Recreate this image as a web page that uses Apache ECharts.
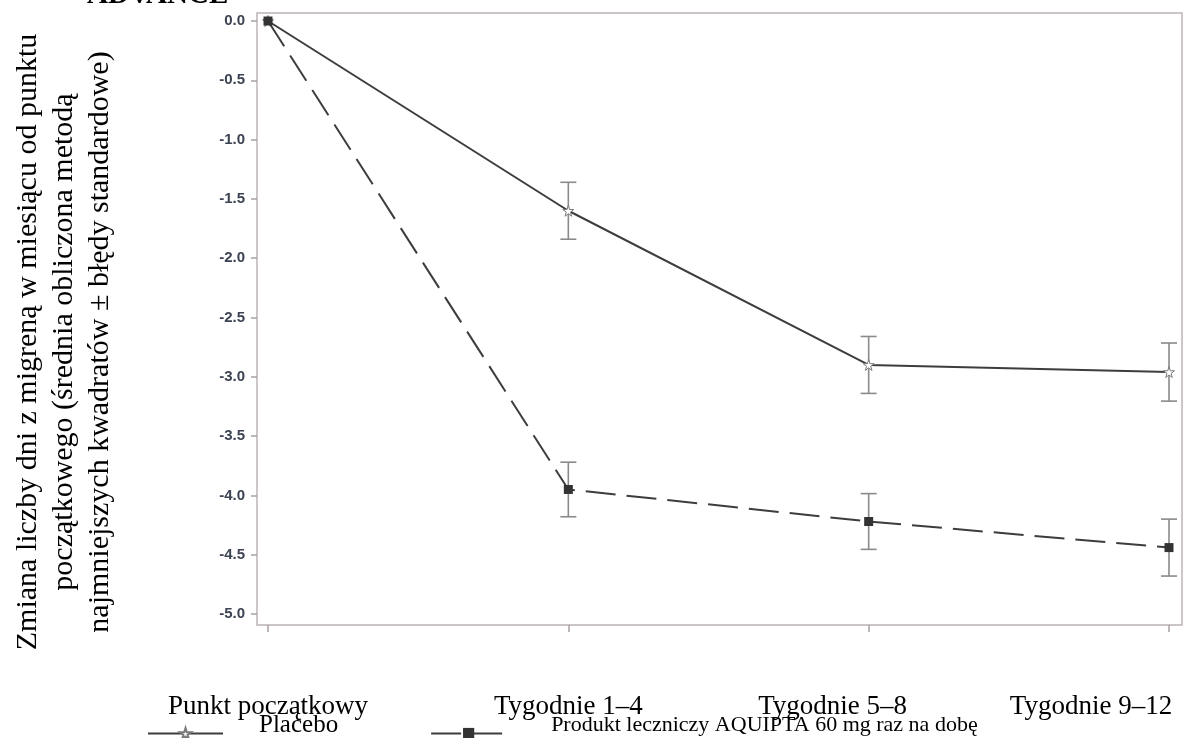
<!DOCTYPE html>
<html lang="pl">

<head>
    <title>echarts</title>
    <meta http-equiv="content-type" content="text/html; charset=utf-8">
    <script src="https://cdn.jsdelivr.net/npm/echarts@6/dist/echarts.min.js"></script>
</head>

<style>
    * {
        margin: 0;
        padding: 0;
        box-sizing: border-box;
    }

    html,
    body {
        width: 100%;
        height: 100%;
        background: #fff;
    }

    #main {
        width: 1198px;
        height: 738px;
    }
</style>

<body>
    <div id="main"></div>
</body>
<script>
    // dane
    const categories = ['Punkt początkowy', 'Tygodnie 1–4', 'Tygodnie 5–8', 'Tygodnie 9–12'];
    const placeboMean = [0, -1.60, -2.90, -2.96];
    const placeboSE = [0, 0.24, 0.24, 0.245];
    const aquiptaMean = [0, -3.95, -4.22, -4.44];
    const aquiptaSE = [0, 0.23, 0.235, 0.24];
    const yTicks = { min: -5, max: 0, step: 0.5 };

    const seriesNames = ['Placebo', 'Produkt leczniczy AQUIPTA 60 mg raz na dobę'];
    const yName = 'Zmiana liczby dni z migreną w miesiącu od punktu\npoczątkowego (średnia obliczona metodą\nnajmniejszych kwadratów ± błędy standardowe)';

    const serif = '"Liberation Serif", "Times New Roman", serif';
    const starPath = 'path://M50,0 L61,35 L98,35 L68,57 L79,91 L50,70 L21,91 L32,57 L2,35 L39,35 Z';

    const toPairs = (arr) => arr.map((v, i) => [i, v]);
    const errData = (mean, se) => mean.map((v, i) => [i, v - se[i], v + se[i]]).filter(d => d[2] - d[1] > 0);

    // rysowanie słupków błędów
    const renderError = (params, api) => {
        const lo = api.coord([api.value(0), api.value(1)]);
        const hi = api.coord([api.value(0), api.value(2)]);
        const cap = 8;
        const style = { stroke: '#8a8a8a', lineWidth: 1.6 };
        return {
            type: 'group',
            children: [
                { type: 'line', shape: { x1: lo[0], y1: lo[1], x2: hi[0], y2: hi[1] }, style },
                { type: 'line', shape: { x1: lo[0] - cap, y1: lo[1], x2: lo[0] + cap, y2: lo[1] }, style },
                { type: 'line', shape: { x1: hi[0] - cap, y1: hi[1], x2: hi[0] + cap, y2: hi[1] }, style }
            ]
        };
    };

    const myChart = echarts.init(document.getElementById('main'));

    const labelFont = { fontFamily: serif, fontSize: 27, color: '#000' };

    const option = {
        animation: false,
        backgroundColor: '#fff',
        grid: { left: 268, right: 29, top: 21, bottom: 124, outerBoundsMode: 'none', containLabel: false },
        graphic: [
            {
                type: 'rect',
                z: 0,
                shape: { x: 257, y: 13, width: 925, height: 612 },
                style: { fill: 'none', stroke: '#bcb4b4', lineWidth: 1.5 }
            },
            {
                type: 'text',
                x: 87,
                y: 10,
                style: { text: 'ADVANCE', font: 'bold 29px ' + serif, fill: '#000', verticalAlign: 'bottom' }
            },
            {
                type: 'text',
                x: 64,
                y: 342,
                rotation: Math.PI / 2,
                style: {
                    text: yName,
                    font: '30px ' + serif,
                    lineHeight: 36,
                    fill: '#000',
                    align: 'center',
                    verticalAlign: 'middle'
                }
            }
        ],
        legend: {
            left: 142,
            top: 708,
            itemWidth: 75,
            itemHeight: 14,
            itemGap: 92,
            data: seriesNames,
            formatter: (name) => (name === seriesNames[0] ? '{a|' : '{b|') + name + '}',
            textStyle: {
                rich: {
                    a: { fontFamily: serif, fontSize: 25, color: '#000', padding: [0, 0, 16, 31] },
                    b: { fontFamily: serif, fontSize: 22, color: '#000', padding: [0, 0, 16, 40] }
                }
            }
        },
        xAxis: {
            type: 'value',
            min: 0,
            max: 3,
            interval: 1,
            offset: 11,
            axisLine: { show: false, onZero: false },
            axisTick: { show: true, length: 7, lineStyle: { color: '#a9a1a1', width: 1.5 } },
            splitLine: { show: false },
            axisLabel: {
                margin: 68,
                fontFamily: serif,
                fontSize: 27,
                color: '#000',
                formatter: (v) => '{c' + v + '|' + (categories[v] || '') + '}',
                rich: {
                    c0: labelFont,
                    c1: labelFont,
                    c2: Object.assign({ padding: [0, 72, 0, 0] }, labelFont),
                    c3: Object.assign({ padding: [0, 156, 0, 0] }, labelFont)
                }
            }
        },
        yAxis: {
            type: 'value',
            min: yTicks.min,
            max: yTicks.max,
            interval: yTicks.step,
            offset: 11,
            axisLine: { show: false, onZero: false },
            axisTick: { show: true, length: 6, lineStyle: { color: '#a9a1a1', width: 1.5 } },
            splitLine: { show: false },
            axisLabel: {
                margin: 12,
                fontFamily: '"Liberation Sans", Arial, sans-serif',
                fontWeight: 'bold',
                fontSize: 15,
                color: '#3c4352',
                formatter: (v) => v.toFixed(1)
            }
        },
        series: [
            {
                type: 'custom',
                silent: true,
                z: 1,
                renderItem: renderError,
                data: errData(placeboMean, placeboSE)
            },
            {
                type: 'custom',
                silent: true,
                z: 1,
                renderItem: renderError,
                data: errData(aquiptaMean, aquiptaSE)
            },
            {
                name: seriesNames[0],
                type: 'line',
                z: 3,
                data: toPairs(placeboMean),
                symbol: starPath,
                symbolSize: 11,
                showAllSymbol: true,
                lineStyle: { color: '#3d3d3d', width: 2 },
                itemStyle: { color: '#fff', borderColor: '#7a7a7a', borderWidth: 1 }
            },
            {
                name: seriesNames[1],
                type: 'line',
                z: 4,
                data: toPairs(aquiptaMean),
                symbol: 'rect',
                symbolSize: 9,
                showAllSymbol: true,
                lineStyle: { color: '#3d3d3d', width: 2, type: [30, 11] },
                itemStyle: { color: '#333' }
            }
        ]
    };

    myChart.setOption(option);
</script>

</html>
